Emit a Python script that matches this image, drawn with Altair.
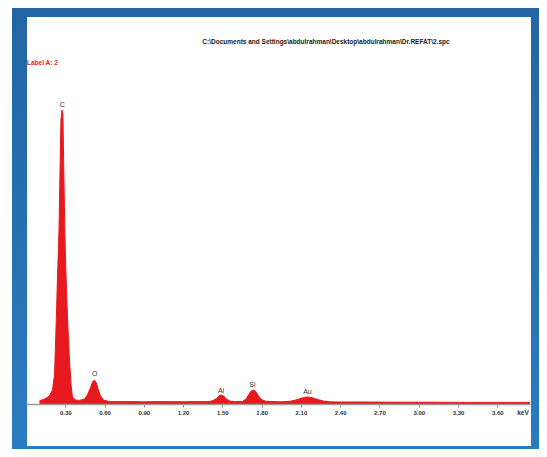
import altair as alt
import pandas as pd

# Spectrum (energy in keV, counts in arbitrary units)
energy = [0.103, 0.141, 0.179, 0.202, 0.218, 0.229, 0.240, 0.252, 0.260, 0.267,
          0.275, 0.282, 0.290, 0.298, 0.309, 0.321, 0.332, 0.344, 0.355, 0.378,
          0.408, 0.447, 0.469, 0.492, 0.508, 0.523, 0.538, 0.553, 0.569, 0.592,
          0.637, 0.75, 0.90, 1.05, 1.20, 1.30, 1.40, 1.43, 1.455, 1.48,
          1.49, 1.51, 1.53, 1.56, 1.60, 1.655, 1.68, 1.70, 1.72, 1.74,
          1.755, 1.775, 1.80, 1.83, 1.87, 1.95, 2.01, 2.05, 2.09, 2.125,
          2.155, 2.195, 2.23, 2.27, 2.32, 2.39, 2.60, 2.85, 3.10, 3.35,
          3.60, 3.85]
counts = [15, 25, 40, 70, 145, 370, 620, 870, 1170, 1420,
          1470, 1445, 1120, 820, 570, 370, 220, 95, 35, 20,
          18, 25, 45, 80, 110, 120, 105, 70, 40, 20,
          12, 12, 11, 12, 11, 12, 12, 18, 28, 42,
          45, 40, 25, 14, 12, 13, 25, 45, 65, 70,
          63, 40, 22, 14, 12, 11, 13, 18, 26, 33,
          35, 30, 22, 15, 11, 10, 10, 9, 9, 8,
          8, 8]

elements = ["C", "O", "Al", "Si", "Au"]
elem_energy = [0.277, 0.525, 1.49, 1.73, 2.15]
elem_label_y = [1495, 150, 65, 95, 60]

tick_values = [0.30, 0.60, 0.90, 1.20, 1.50, 1.80, 2.10, 2.40, 2.70, 3.00, 3.30, 3.60]

file_title = "C:\\Documents and Settings\\abdulrahman\\Desktop\\abdulrahman\\Dr.REFAT\\2.spc"
label_text = "Label A: 2"
unit_text = "keV"

spec = pd.DataFrame({"energy": energy, "counts": counts})
elem = pd.DataFrame({"el": elements, "energy": elem_energy, "y": elem_label_y})

W, H = 504, 304
xscale = alt.Scale(domain=[0, 3.85], nice=False, zero=False)
yscale = alt.Scale(domain=[0, 1520], nice=False)

xaxis = alt.Axis(values=tick_values, format=".2f", title=None, grid=False,
                 domainColor="#9a9a9a", domainWidth=1.5, tickColor="#9a9a9a",
                 tickSize=3, labelFontSize=6, labelFontWeight="bold",
                 labelColor="#333333", labelPadding=2, labelFont="Liberation Sans",
                 zindex=2)

one = pd.DataFrame({"a": [0]})

bluebg = alt.Chart(one).mark_rect(
    color=alt.LinearGradient(
        gradient="linear", x1=0, x2=0, y1=0, y2=1,
        stops=[alt.GradientStop(color="#2265a2", offset=0),
               alt.GradientStop(color="#2a7cc0", offset=1)]),
    clip=False
).encode(x=alt.value(-14), x2=alt.value(515), y=alt.value(-95), y2=alt.value(352))

white = alt.Chart(one).mark_rect(color="white", clip=False).encode(
    x=alt.value(1), x2=alt.value(505), y=alt.value(-83), y2=alt.value(346))

area = alt.Chart(spec).mark_area(color="#e8191e", opacity=1,
                                 line={"color": "#e8191e", "strokeWidth": 1}).encode(
    x=alt.X("energy:Q", scale=xscale, axis=xaxis),
    y=alt.Y("counts:Q", scale=yscale, axis=None),
)

labels = alt.Chart(elem).mark_text(fontSize=7, color="#333333", font="Liberation Sans",
                                   baseline="middle").encode(
    x=alt.X("energy:Q", scale=xscale, axis=xaxis),
    y=alt.Y("y:Q", scale=yscale, axis=None),
    text="el:N",
)

title_df = pd.DataFrame({"t": [file_title]})
title_txt = alt.Chart(title_df).mark_text(fontSize=6.5, fontWeight="bold", color="#222222",
                                          font="Liberation Sans", clip=False).encode(
    x=alt.value(300), y=alt.value(-58), text="t:N")

lab_df = pd.DataFrame({"t": [label_text]})
lab_txt = alt.Chart(lab_df).mark_text(fontSize=6.5, fontWeight="bold", color="#e8191e",
                                      font="Liberation Sans", align="left", clip=False).encode(
    x=alt.value(1), y=alt.value(-37), text="t:N")

unit_df = pd.DataFrame({"t": [unit_text]})
unit_txt = alt.Chart(unit_df).mark_text(fontSize=6.5, fontWeight="bold", color="#333333",
                                        font="Liberation Sans", clip=False).encode(
    x=alt.value(497), y=alt.value(H + 9), text="t:N")

chart = alt.layer(bluebg, white, area, labels, title_txt, lab_txt, unit_txt).properties(
    width=W, height=H,
    autosize=alt.AutoSizeParams(type="none"),
    padding={"left": 18, "top": 92, "right": 9, "bottom": 45},
    background="white",
).configure_view(stroke=None)

chart.save("out.html", embed_options={"renderer": "svg", "actions": False})
